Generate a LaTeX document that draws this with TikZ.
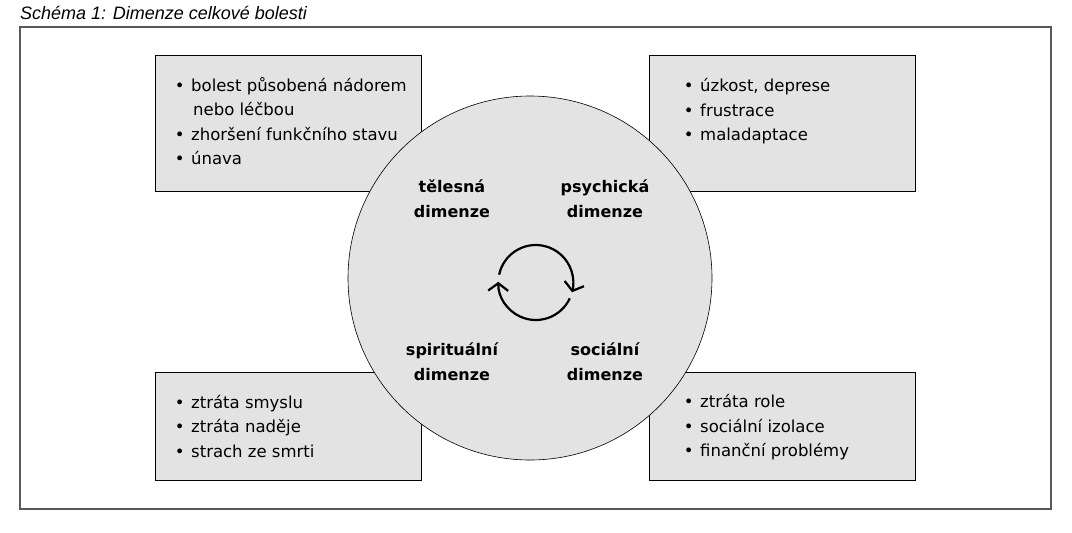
\documentclass[tikz,border=0pt]{standalone}
\usepackage{fontspec}
\setmainfont{DejaVu Sans}
\newfontfamily\titlefont{Liberation Sans}
\usetikzlibrary{arrows.meta,shadows}
\definecolor{boxgray}{HTML}{E3E3E3}
\newcommand{\bul}{\llap{•\hspace{6.5pt}}}

\begin{document}
\begin{tikzpicture}[x=1pt,y=-1pt,
        painbox/.style={draw=black,line width=0.9pt,fill=boxgray,inner sep=0pt,
            drop shadow={shadow xshift=1.2pt,shadow yshift=-1.2pt,fill=black!50,opacity=1}},
        dimlabel/.style={font=\bfseries\fontsize{16}{25}\selectfont,align=center,inner sep=0pt},
        item/.style={anchor=base west,inner sep=0pt,font=\fontsize{16.5}{20}\selectfont},
        cycarrow/.style={line width=2.2pt,-{Straight Barb[length=7.5pt,width=20pt]}}]
        \useasboundingbox (0,0) rectangle (1072,533);

        \node[anchor=base west,inner sep=0pt,font=\titlefont\itshape\fontsize{18}{20}\selectfont] (title) at (20,19) {Schéma 1: Dimenze celkové bolesti};
        \node[draw=black!65,fill=white,line width=1.2pt,minimum width=1031pt,minimum height=482pt,inner sep=0pt,
            drop shadow={shadow xshift=1pt,shadow yshift=-1pt,fill=black!40,opacity=1}] (frame) at (535.5,268) {};

        \node[painbox,minimum width=266pt,minimum height=136pt] (phys) at (288,123) {};
        \node[painbox,minimum width=266pt,minimum height=136pt] (psych) at (782,123) {};
        \node[painbox,minimum width=266pt,minimum height=108pt] (spirit) at (288,426) {};
        \node[painbox,minimum width=266pt,minimum height=108pt] (social) at (782,426) {};

        \node[circle,draw,line width=0.6pt,fill=boxgray,minimum size=364pt,inner sep=0pt] (dim) at (530,278) {};

        \node[dimlabel] (tel) at (452,199) {tělesná\\dimenze};
        \node[dimlabel] (psy) at (605,199) {psychická\\dimenze};
        \node[dimlabel] (spi) at (452,362) {spirituální\\dimenze};
        \node[dimlabel] (soc) at (605,362) {sociální\\dimenze};

        \coordinate (cyc) at (535.8,282.5);
        \draw[cycarrow] (cyc) ++(-168:37.5) arc (-168:15:37.5);
        \draw[cycarrow] (cyc) ++(25:37.5) arc (25:181:37.5);

        \foreach \y/\txt [count=\i] in {91/{\bul bolest působená nádorem}, 115.5/{\hspace{2pt}nebo léčbou},
                140/{\bul zhoršení funkčního stavu}, 164.5/{\bul únava}}
            \node[item] (phys\i) at (191,\y) {\txt};
        \foreach \y/\txt [count=\i] in {91.5/{\bul úzkost, deprese}, 116/{\bul frustrace}, 140.5/{\bul maladaptace}}
            \node[item] (psych\i) at (700,\y) {\txt};
        \foreach \y/\txt [count=\i] in {408/{\bul ztráta smyslu}, 432.5/{\bul ztráta naděje}, 457/{\bul strach ze smrti}}
            \node[item] (spirit\i) at (191,\y) {\txt};
        \foreach \y/\txt [count=\i] in {407.5/{\bul ztráta role}, 432/{\bul sociální izolace}, 456.5/{\bul finanční problémy}}
            \node[item] (social\i) at (700,\y) {\txt};
    \end{tikzpicture}
\end{document}
